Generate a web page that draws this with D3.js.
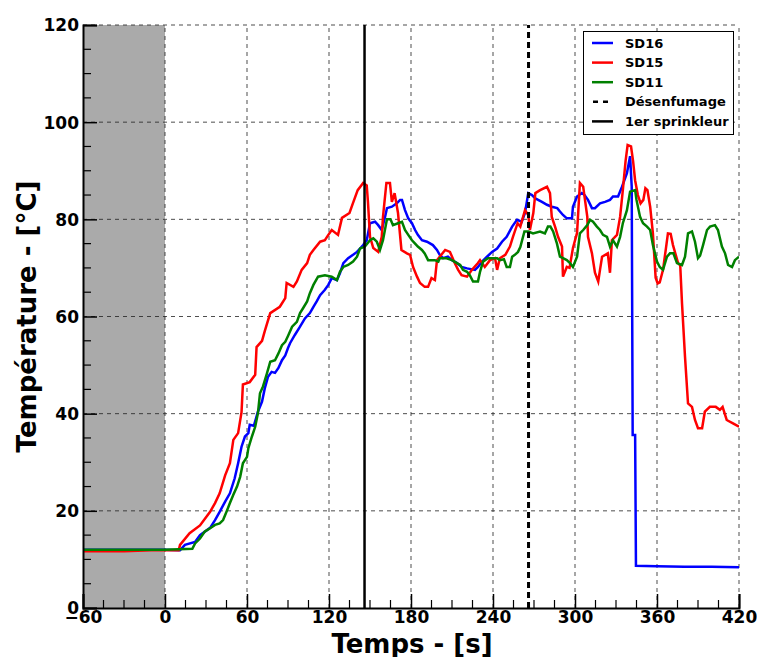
<!DOCTYPE html>
<html><head><meta charset="utf-8">
<script src="https://cdn.jsdelivr.net/npm/d3@7"></script>
<style>body{margin:0;background:#fff}svg{display:block}text{font-family:"DejaVu Sans",sans-serif;font-weight:bold}</style>
</head><body><svg id="c" width="757" height="657"></svg>
<script>
const xTicks = [-60, 0, 60, 120, 180, 240, 300, 360, 420];
const yTicks = [0, 20, 40, 60, 80, 100, 120];
const sprinklerTime = 146;
const smokeTime = 266;
const preStart = -60, preEnd = 0;

const sd16 = [[-60,12],[0,12],[11,11.9],[14.6,13],[22,13.6],[25.6,15],[33,16.5],[36.6,18.1],[40,19.8],[44,21.9],[47.5,23.6],[51,26.7],[53.5,29.8],[56,33.2],[58.5,35.3],[61,36],[62,37.7],[65,37.5],[68,40.4],[71,42.5],[73,45.2],[75.4,47.6],[78,48.6],[80.5,48.4],[83,49.4],[85.6,51],[88,52],[90,53.5],[91.5,54.5],[95,56.2],[98.8,57.9],[102.4,59.6],[106,60.7],[108.6,62],[111,63.1],[113.5,64.4],[117,65.5],[119.5,66.5],[122,67.9],[125.8,67.5],[128,68.9],[130.5,71],[134,72],[137.6,72.7],[140.5,73.3],[142.7,74],[145,74.7],[147.6,75.7],[150,79.2],[153.7,79.5],[156,78.8],[158.6,77.8],[161,80.5],[162.4,82.3],[166,82.6],[169.6,83.3],[172,84],[173.4,84],[175.6,81.9],[178,80.2],[180.7,79.2],[183,77.8],[185,76.8],[188,75.7],[191.7,75.4],[196,74.7],[199,73.7],[201,72.7],[203.4,72],[207,72.3],[210,71.6],[213.6,71],[217,70.2],[221,69.9],[226.8,69.6],[229,70.2],[232,71.3],[235.6,72.3],[239.3,73.3],[243,74],[246.6,75.4],[250,76.4],[254,78.5],[257.6,79.9],[261,79.5],[263.4,81.3],[265.8,85.4],[268.5,85],[271,84.3],[273,84],[275.8,83.6],[279.5,83],[283,82.6],[287,82.3],[289,81.6],[291.2,80.9],[294,80.2],[297.8,80.2],[298.5,82.6],[301.5,84.7],[305,85.4],[307,85],[309.5,84],[312.4,82.3],[314.6,82.3],[318.3,83.3],[322,83.6],[325.6,84],[327.8,84.7],[331.5,84.7],[334.4,86.7],[338,89.5],[340.3,93],[341.5,86.7],[342.2,35.6],[344,35.6],[344.6,8.7],[360,8.6],[380,8.5],[400,8.5],[420,8.4]];

const sd15 = [[-60,11.7],[-30,11.7],[-10,11.9],[0,11.9],[10,11.9],[11,13],[18,15.4],[25.6,17],[33,19.8],[36.6,21.6],[40,23.6],[44,27.3],[47.5,29.8],[50,34.6],[53.5,36],[56,40.3],[57,46],[62,46.5],[66,48],[67,53.7],[71,55],[73,57],[77,60.7],[84,62],[88,63.8],[89,66.9],[94,66.1],[96.5,67.2],[100,69.6],[104,71],[106,72.7],[108.6,73.7],[113.5,75.4],[117,75.7],[119.5,76.8],[122,77.8],[126.6,76.8],[129.5,80.3],[135,81.3],[137.6,83.4],[141,86],[145,87.5],[147.6,87],[148.5,83.6],[150,76.4],[152.4,74.1],[156,73.3],[158.6,76.4],[159.5,80.5],[162,87.5],[164.6,87.5],[166,83.6],[168,85.4],[170.5,81.3],[173,73.7],[177,73],[179.3,72.7],[181.5,70.2],[184.4,68.2],[186.6,66.9],[190,66.1],[192.5,66.1],[195,67.9],[197.5,67.5],[199,71.6],[201,72.3],[205,73.7],[208.5,73.3],[212,71],[214.5,69.6],[217,68.5],[221,68.2],[224.6,69.6],[229,71],[230.5,71.6],[234,70.2],[237.8,71.6],[241.5,72],[243,69.6],[245,72],[249,72.7],[252.4,74.4],[254.6,76.4],[258,79.2],[260,78.5],[263.4,81.9],[265.8,80.9],[267,77.8],[269.5,81.3],[271,85.4],[274.5,86],[279.5,86.7],[281.7,85.4],[283,80.5],[285.4,78.5],[287.6,76.4],[290.5,74.4],[291.2,68.2],[294,70.2],[296,70],[298.5,74.1],[301.5,77.2],[303.6,87.5],[306,86.7],[309,80.5],[309.5,76.4],[312.4,73],[314.6,69],[317,67.2],[318.3,69.6],[319.8,72.3],[324,73],[325.6,69],[327,75.7],[330.7,76.8],[333,80.5],[335,86],[337,92],[338.5,95.3],[341,95],[342.5,92],[344,88],[346,85],[348,83.3],[350,84],[351.5,86.4],[353,86],[355,82.6],[357,77.1],[359,68],[360.5,66.8],[362,67],[364.4,69.6],[367,75],[368,77.1],[370,77],[371.7,74.7],[375.4,71],[377,70.5],[378.3,62.7],[380.5,51.7],[382.7,42.1],[385.6,41.4],[387.8,38.7],[390,37],[393,37],[395,40.4],[398.7,41.4],[403,41.4],[406,40.8],[408,41.4],[411,38.7],[415.6,38],[420,37.3]];

const sd11 = [[-60,12],[0,12],[20,12.2],[22,13.3],[25.6,14.3],[29,15.7],[33,16.4],[36.6,17.1],[40,17.4],[42.5,18.1],[45,19.8],[47.5,21.6],[50,23.3],[52.7,25],[55,27],[57,29.8],[60,31.1],[61,32.9],[63.6,35.3],[66,37.3],[68,40.1],[69.5,44.2],[71.7,45.6],[74.6,48.3],[77,50.7],[80.5,51],[83,52.4],[85.6,54.1],[88,54.8],[90,56],[93,57.9],[96.5,58.9],[98.8,60.7],[101,61.7],[104,63.1],[106,64.8],[108.6,66.5],[112,68.2],[117,68.5],[122,68.2],[125.8,67.5],[128,69.2],[130.5,70.2],[134,70.6],[137.6,71.3],[140.5,72.3],[142.7,74],[146.3,74.4],[150,75.7],[152.4,76.1],[155,75.4],[157.3,73.7],[159.5,75.7],[162.4,80],[165,80],[166.8,78.8],[170.5,79.2],[173.4,79.5],[175.6,77.8],[178,76.8],[180.7,75.7],[183,75],[185,74.4],[188,73.7],[190,73],[192.5,71.6],[197.5,71.6],[200,71.3],[201,72],[206,72],[210,71.6],[213.6,71],[216,70.6],[218,69.6],[221,69.2],[223,68.5],[225.4,67.2],[229,67.2],[230.5,69.2],[232.7,71.3],[236.3,72],[243,72],[245,71.6],[248,71.8],[250,70.2],[252.4,70.2],[254,72.3],[256,72.7],[258.3,73.3],[260,74.3],[263,77.5],[265.8,77.5],[269.3,77.1],[274.4,77.5],[278,77.1],[280.2,78.5],[282,78.5],[284,77.5],[286.8,75],[289,72.3],[291.2,72],[294,71.6],[296.3,71],[298.5,70.2],[301.5,72.3],[303.6,77.1],[306,77.8],[309,78.8],[311,79.9],[313.2,79.5],[316,78.5],[318.3,77.8],[320.5,76.8],[323.4,76.4],[325.6,74.4],[327.8,75.7],[330.7,74.4],[333,76.4],[335,79.2],[338,81.9],[340.3,85.7],[344,86],[345,84],[347.6,80.5],[349.8,79.2],[352.7,78.5],[355,77.8],[357,74.7],[360,71.3],[362,70.2],[364.4,69.6],[367.3,72.3],[369.5,73],[372,73],[374.6,71],[378.3,70.6],[380.5,72.3],[382.7,77.1],[385.6,77.5],[387.8,75.4],[390,72],[391.5,72.5],[393.7,74.7],[396.6,77.8],[398.8,78.5],[402.4,78.8],[404.6,77.8],[407.5,74.4],[409.8,73],[412,70.6],[414.9,70.2],[417,71.6],[420,72.3]];

const seriesNames = ["SD16", "SD15", "SD11"];
const seriesData = [sd16, sd15, sd11];
const seriesColors = ["#0000ff", "#ff0000", "#008000"];

const svg = d3.select("#c");
const L = 83, R = 739, T = 25, B = 608;
const x = d3.scaleLinear().domain([-60, 420]).range([L, R]);
const y = d3.scaleLinear().domain([0, 120]).range([B, T]);

// shaded pre-ignition region
svg.append("rect").attr("x", x(preStart)).attr("y", y(120))
  .attr("width", x(preEnd) - x(preStart)).attr("height", y(0) - y(120))
  .attr("fill", "#aaaaaa");

// grid
const g = svg.append("g");
xTicks.forEach(t => { if (t > -60) g.append("line").attr("x1", x(t)).attr("x2", x(t)).attr("y1", y(0)).attr("y2", y(120)); });
yTicks.forEach(v => { if (v > 0) g.append("line").attr("x1", x(-60)).attr("x2", x(420)).attr("y1", y(v)).attr("y2", y(v)); });
g.selectAll("line").attr("stroke", "#222").attr("stroke-width", 1).attr("stroke-dasharray", "4,4").attr("stroke-opacity", 0.8);

// data lines
const clip = svg.append("clipPath").attr("id", "pc").append("rect").attr("x", L).attr("y", T - 2).attr("width", R - L).attr("height", B - T + 2);
const line = d3.line().x(d => x(d[0])).y(d => y(d[1]));
const lg = svg.append("g").attr("clip-path", "url(#pc)");
seriesData.forEach((d, i) => {
  lg.append("path").datum(d).attr("d", line).attr("fill", "none")
    .attr("stroke", seriesColors[i]).attr("stroke-width", 2.5).attr("stroke-linejoin", "miter");
});

// event lines
svg.append("line").attr("x1", x(smokeTime)).attr("x2", x(smokeTime)).attr("y1", y(0)).attr("y2", y(120))
  .attr("stroke", "#000").attr("stroke-width", 3).attr("stroke-dasharray", "6,4");
svg.append("line").attr("x1", x(sprinklerTime)).attr("x2", x(sprinklerTime)).attr("y1", y(0)).attr("y2", y(120))
  .attr("stroke", "#000").attr("stroke-width", 2.5);

// axes
const xAxis = d3.axisBottom(x).tickValues(xTicks).tickSize(-14).tickPadding(3)
  .tickFormat(d => d < 0 ? "\u2212" + Math.abs(d) : d);
const xa = svg.append("g").attr("transform", `translate(0,${B})`).call(xAxis);
const yAxis = d3.axisLeft(y).tickValues(yTicks).tickSize(-14).tickPadding(4);
const ya = svg.append("g").attr("transform", `translate(${L},0)`).call(yAxis);
[xa, ya].forEach(a => {
  a.select(".domain").attr("stroke", "#000").attr("stroke-width", 2);
  a.selectAll(".tick line").attr("stroke", "#000").attr("stroke-width", 1.5);
  a.selectAll("text").attr("font-size", 17).attr("font-family", "DejaVu Sans").attr("font-weight", "bold").attr("fill", "#000");
});
ya.selectAll("text").attr("dy", "0.35em");
// minor ticks
const xMinor = d3.range(-60, 421, 15).filter(v => !xTicks.includes(v));
const yMinor = d3.range(0, 121, 5).filter(v => !yTicks.includes(v));
xMinor.forEach(v => svg.append("line").attr("x1", x(v)).attr("x2", x(v)).attr("y1", B).attr("y2", B - 8).attr("stroke", "#000").attr("stroke-width", 1.2));
yMinor.forEach(v => svg.append("line").attr("x1", L).attr("x2", L + 8).attr("y1", y(v)).attr("y2", y(v)).attr("stroke", "#000").attr("stroke-width", 1.2));

// axis titles
svg.append("text").attr("x", (L + R) / 2 + 1).attr("y", 653).attr("text-anchor", "middle")
  .attr("font-size", 26).text("Temps - [s]");
svg.append("text").attr("transform", `translate(36,${(T + B) / 2}) rotate(-90)`).attr("text-anchor", "middle")
  .attr("font-size", 26).text("Température - [°C]");

// legend
const leg = svg.append("g");
leg.append("rect").attr("x", 583.5).attr("y", 31.5).attr("width", 150).attr("height", 103)
  .attr("fill", "#fff").attr("stroke", "#000").attr("stroke-width", 1);
const legItems = [
  {label: "SD16", color: seriesColors[0], dash: null},
  {label: "SD15", color: seriesColors[1], dash: null},
  {label: "SD11", color: seriesColors[2], dash: null},
  {label: "Désenfumage", color: "#000", dash: "6,4"},
  {label: "1er sprinkleur", color: "#000", dash: null}
];
legItems.forEach((it, i) => {
  const yy = 43 + i * 19.6;
  const ln = leg.append("line").attr("x1", 592).attr("x2", 613).attr("y1", yy).attr("y2", yy)
    .attr("stroke", it.color).attr("stroke-width", 2.5);
  if (it.dash) ln.attr("stroke-dasharray", "5,5").attr("stroke-dashoffset", -1);
  leg.append("text").attr("x", 625).attr("y", yy).attr("dy", "0.35em").attr("font-size", 13).text(it.label);
});
</script>
</body></html>
